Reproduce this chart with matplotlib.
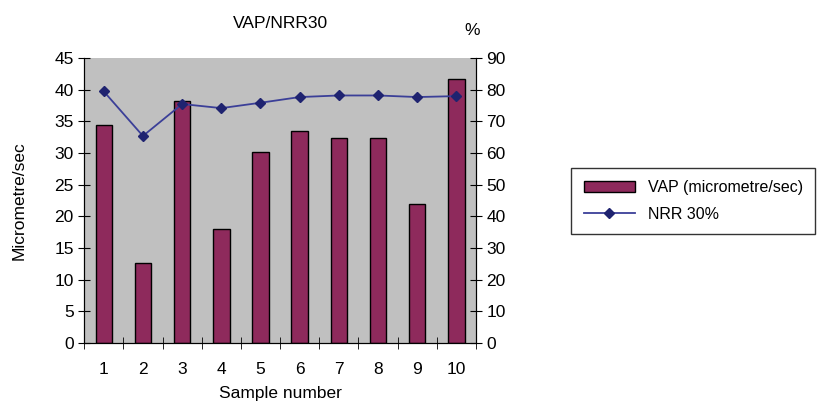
import matplotlib.pyplot as plt
import numpy as np

samples = [1, 2, 3, 4, 5, 6, 7, 8, 9, 10]
vap = [34.5, 12.6, 38.2, 18.0, 30.1, 33.5, 32.4, 32.4, 21.9, 41.7]
nrr = [79.5, 65.4, 75.5, 74.2, 75.9, 77.7, 78.2, 78.2, 77.7, 78.0]

plt.rcParams['font.family'] = ['Liberation Sans', 'DejaVu Sans']

fig = plt.figure(figsize=(8.25, 4.01), dpi=100)
ax = fig.add_axes([0.102, 0.145, 0.475, 0.71])
ax.set_facecolor('#c0c0c0')

x = np.arange(len(samples)) + 1
bars = ax.bar(x, vap, width=0.42, color='#8e2a5c', edgecolor='black', linewidth=1,
              label='VAP (micrometre/sec)', zorder=2)
ax.set_xlim(0.5, 10.5)
ax.set_ylim(0, 45)
ax.set_yticks(range(0, 46, 5))
ax.set_xticks(x)
ax.set_xticklabels([str(s) for s in samples])
ax.set_xticks(np.arange(0.5, 11, 1), minor=True)
ax.tick_params(axis='x', which='major', length=0, labelsize=12.5, pad=14)
ax.tick_params(axis='x', which='minor', direction='inout', length=8)
ax.tick_params(axis='y', direction='inout', length=8, labelsize=12.5)
ax.set_xlabel('Sample number', fontsize=12.5, labelpad=6)
ax.set_ylabel('Micrometre/sec', fontsize=12.5, labelpad=20)
ax.spines['top'].set_visible(False)

ax2 = ax.twinx()
line, = ax2.plot(x, nrr, color='#3b3f98', marker='D', markersize=5,
                 markerfacecolor='#1f2370', markeredgecolor='#1f2370',
                 linewidth=1.3, label='NRR 30%')
ax2.set_ylim(0, 90)
ax2.set_yticks(range(0, 91, 10))
ax2.tick_params(axis='y', direction='inout', length=8, labelsize=12.5)
ax2.spines['top'].set_visible(False)

ax.set_title('VAP/NRR30', fontsize=12.5, pad=22)
fig.text(0.572, 0.905, '%', fontsize=12.5, ha='center', va='bottom')

leg = fig.legend([bars, line], ['VAP (micrometre/sec)', 'NRR 30%'],
                 loc='upper left', bbox_to_anchor=(0.692, 0.582),
                 frameon=True, fancybox=False, edgecolor='black', fontsize=11.5,
                 borderpad=0.8, labelspacing=0.7, handlelength=3.2,
                 borderaxespad=0)
leg.get_frame().set_linewidth(1)

fig.savefig('out.png', dpi=100)
